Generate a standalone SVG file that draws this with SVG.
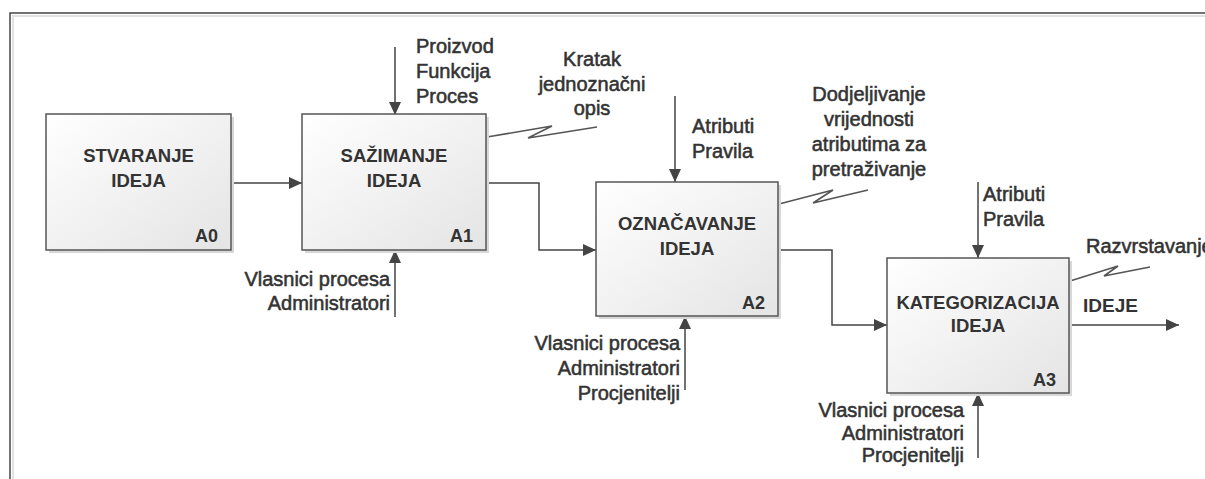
<svg xmlns="http://www.w3.org/2000/svg" width="1205" height="479" viewBox="0 0 1205 479">
<defs>
<linearGradient id="boxg" x1="0" y1="0" x2="1" y2="1">
<stop offset="0" stop-color="#ffffff"/>
<stop offset="1" stop-color="#e4e4e4"/>
</linearGradient>
<marker id="ah" viewBox="0 0 13 12" refX="13" refY="6" markerWidth="13" markerHeight="12" markerUnits="userSpaceOnUse" orient="auto">
<path d="M0,0 L13,6 L0,12 z" fill="#444"/>
</marker>
<style>
.box{fill:url(#boxg);stroke:#555;stroke-width:1.5}
.shadow{fill:#d8d8d8}
.title{font-family:"Liberation Sans",Arial,sans-serif;font-size:18.5px;font-weight:bold;fill:#333;text-anchor:middle}
.num{font-family:"Liberation Sans",Arial,sans-serif;font-size:18px;font-weight:bold;fill:#333;text-anchor:end}
.lbl{font-family:"Liberation Sans",Arial,sans-serif;font-size:20px;fill:#333;stroke:#333;stroke-width:0.55}
.bold{font-family:"Liberation Sans",Arial,sans-serif;font-size:19px;font-weight:bold;fill:#333}
.ln{fill:none;stroke:#444;stroke-width:1.5}
.sq{fill:none;stroke:#555;stroke-width:1.6}
</style>
</defs>
<rect width="1205" height="479" fill="#ffffff"/>
<g id="frame">
<rect x="10" y="13" width="1260" height="520" fill="none" stroke="#444" stroke-width="1.5"/>
<rect x="13" y="16" width="1260" height="520" fill="none" stroke="#e2e2e2" stroke-width="2"/>
</g>
<g id="connectors">
<path class="ln" d="M231,183 H302" marker-end="url(#ah)"/>
<path class="ln" d="M486,183 H539 V250 H596" marker-end="url(#ah)"/>
<path class="ln" d="M778,250 H832 V325 H887" marker-end="url(#ah)"/>
<path class="ln" d="M1069,325 H1179" marker-end="url(#ah)"/>
<path class="ln" d="M395,47 V115" marker-end="url(#ah)"/>
<path class="ln" d="M395,317 V250" marker-end="url(#ah)"/>
<path class="ln" d="M675,96 V182" marker-end="url(#ah)"/>
<path class="ln" d="M685,390 V316" marker-end="url(#ah)"/>
<path class="ln" d="M978,182 V258" marker-end="url(#ah)"/>
<path class="ln" d="M978,458 V393" marker-end="url(#ah)"/>
<path class="sq" d="M487,137 L552,126 L528,138 L597,127"/>
<path class="sq" d="M779,204 L833,190 L813,203 L868,190"/>
<path class="sq" d="M1070,281 L1118,266 L1104,276 L1150,267"/>
</g>
<g id="A0">
<rect class="shadow" x="49" y="117" width="185" height="136"/>
<rect class="box" x="46" y="114" width="185" height="136"/>
<text class="title" x="138.5" y="162">STVARANJE</text>
<text class="title" x="138.5" y="187">IDEJA</text>
<text class="num" x="218" y="242">A0</text>
</g>
<g id="A1">
<rect class="shadow" x="305" y="117" width="184" height="136"/>
<rect class="box" x="302" y="114" width="184" height="136"/>
<text class="title" x="394" y="162">SAŽIMANJE</text>
<text class="title" x="394" y="187">IDEJA</text>
<text class="num" x="473" y="242">A1</text>
</g>
<g id="A2">
<rect class="shadow" x="599" y="185" width="182" height="134"/>
<rect class="box" x="596" y="182" width="182" height="134"/>
<text class="title" x="687" y="230">OZNAČAVANJE</text>
<text class="title" x="687" y="255">IDEJA</text>
<text class="num" x="765" y="309">A2</text>
</g>
<g id="A3">
<rect class="shadow" x="890" y="261" width="182" height="135"/>
<rect class="box" x="887" y="258" width="182" height="135"/>
<text class="title" x="978" y="309">KATEGORIZACIJA</text>
<text class="title" x="978" y="332">IDEJA</text>
<text class="num" x="1056" y="386">A3</text>
</g>
<g id="labels">
<text class="lbl" x="416" y="53">Proizvod</text>
<text class="lbl" x="416" y="78">Funkcija</text>
<text class="lbl" x="416" y="103">Proces</text>
<text class="lbl" x="592" y="66" text-anchor="middle">Kratak</text>
<text class="lbl" x="592" y="91" text-anchor="middle">jednoznačni</text>
<text class="lbl" x="592" y="115" text-anchor="middle">opis</text>
<text class="lbl" x="692" y="133">Atributi</text>
<text class="lbl" x="692" y="158">Pravila</text>
<text class="lbl" x="869" y="101" text-anchor="middle">Dodjeljivanje</text>
<text class="lbl" x="869" y="126" text-anchor="middle">vrijednosti</text>
<text class="lbl" x="869" y="151" text-anchor="middle">atributima za</text>
<text class="lbl" x="869" y="176" text-anchor="middle">pretraživanje</text>
<text class="lbl" x="983" y="201">Atributi</text>
<text class="lbl" x="983" y="226">Pravila</text>
<text class="lbl" x="1086" y="253">Razvrstavanje</text>
<text class="bold" x="1083" y="312">IDEJE</text>
<text class="lbl" x="390" y="286" text-anchor="end">Vlasnici procesa</text>
<text class="lbl" x="390" y="310" text-anchor="end">Administratori</text>
<text class="lbl" x="680" y="350" text-anchor="end">Vlasnici procesa</text>
<text class="lbl" x="680" y="375" text-anchor="end">Administratori</text>
<text class="lbl" x="680" y="400" text-anchor="end">Procjenitelji</text>
<text class="lbl" x="964" y="417" text-anchor="end">Vlasnici procesa</text>
<text class="lbl" x="964" y="440" text-anchor="end">Administratori</text>
<text class="lbl" x="964" y="462" text-anchor="end">Procjenitelji</text>
</g>
</svg>
